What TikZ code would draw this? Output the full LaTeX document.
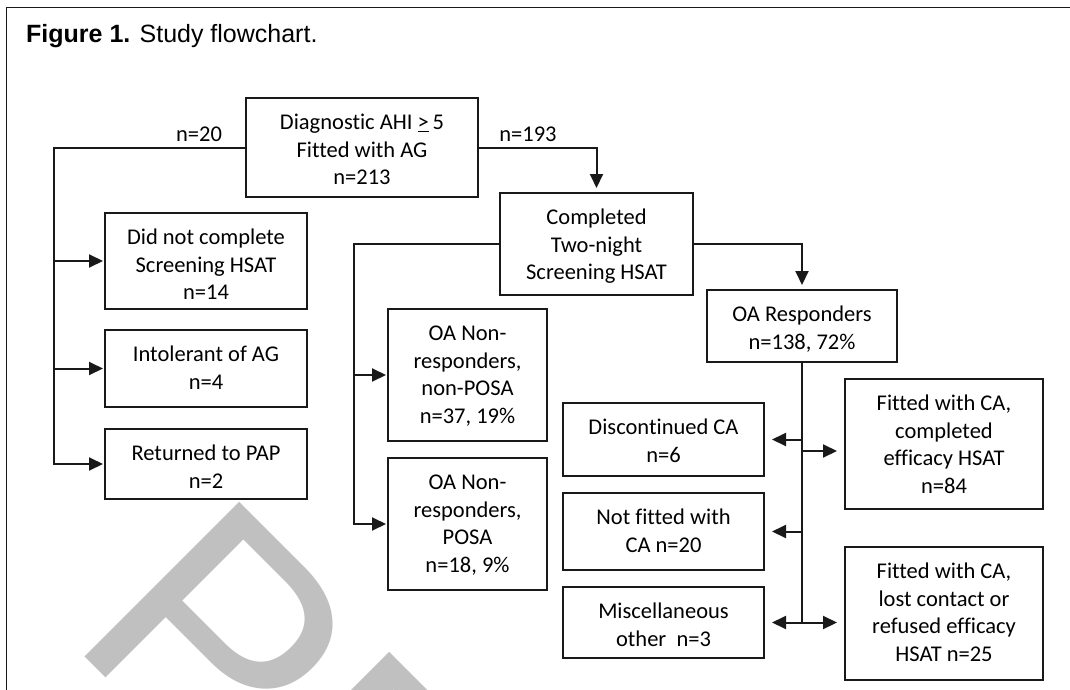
\documentclass[tikz,border=0pt]{standalone}
\usepackage{fontspec}
\setmainfont{Carlito}[Ligatures=NoCommon]
\newfontfamily\arialf{Liberation Sans}
\usetikzlibrary{arrows.meta}
\definecolor{ink}{RGB}{25,25,25}
\definecolor{wmgray}{RGB}{192,192,192}
\newcommand{\bt}[3]{\parbox[c][#2pt][t]{#1pt}{\centering\rule{0pt}{31.5pt}#3}}
\begin{document}
\begin{tikzpicture}[x=1pt,y=-1pt,
  box/.style={draw=ink, line width=2pt, inner sep=0pt, anchor=north west, font=\fontsize{22.5}{27.5}\selectfont},
  ln/.style={draw=ink, line width=2pt},
  arr/.style={ln, -{Triangle[length=14pt,width=13pt]}},
  lbl/.style={font=\fontsize{22.5}{27.5}\selectfont, inner sep=0pt, anchor=base},
  wm/.style={text=wmgray, font=\arialf\fontsize{318}{318}\selectfont, inner sep=0pt, anchor=base west, rotate=-45},
  frame/.style={draw=ink, line width=1.5pt}]
\useasboundingbox (0,0) rectangle (1070,690);
\fill[white] (0,0) rectangle (1070,690);
% watermark
\begin{scope}
\clip (0,0) rectangle (1070,690);
\node[wm] (W) at (66,638) {PR};
\end{scope}
% frame and title
\draw[frame] (6.5,692) -- (6.5,7.5) -- (1072,7.5);
\node[anchor=base west, inner sep=0pt, font=\arialf\fontsize{25}{30}\selectfont] (T) at (26,43) {\textbf{Figure 1.} Study flowchart.};
% boxes
\node[box] (A) at (245,97) {\bt{232}{99}{Diagnostic AHI \underline{>}\,5\\Fitted with AG\\n=213}};
\node[box] (B) at (104,212) {\bt{202}{96}{Did not complete\\Screening HSAT\\n=14}};
\node[box] (C) at (104,329) {\bt{202}{77}{Intolerant of AG\\n=4}};
\node[box] (D) at (104,428) {\bt{202}{70}{Returned to PAP\\n=2}};
\node[box] (E) at (499,192) {\bt{193}{102}{Completed\\Two-night\\Screening HSAT}};
\node[box] (F) at (387,308) {\bt{159}{132}{OA Non-\\responders,\\non-POSA\\n=37, 19\%}};
\node[box] (G) at (387,457) {\bt{159}{132}{OA Non-\\responders,\\POSA\\n=18, 9\%}};
\node[box] (R) at (706,289) {\bt{190}{72}{OA Responders\\n=138, 72\%}};
\node[box] (H) at (844,378) {\bt{198}{130}{Fitted with CA,\\completed\\efficacy HSAT\\n=84}};
\node[box] (I) at (844,546) {\bt{198}{133}{Fitted with CA,\\lost contact or\\refused efficacy\\HSAT n=25}};
\node[box] (J) at (562,402) {\bt{201}{73}{Discontinued CA\\n=6}};
\node[box] (K) at (562,492) {\bt{201}{77}{Not fitted with\\CA n=20}};
\node[box] (L) at (562,586) {\bt{201}{71}{Miscellaneous\\other~~n=3}};
% labels
\node[lbl] (n20) at (199,142) {n=20};
\node[lbl] (n193) at (528,142) {n=193};
% connectors left
\coordinate (lv) at (54,0);
\draw[arr, shorten >=1pt] (A.west) -| (lv |- D.west) -- (D.west);
\draw[arr, shorten >=1pt] (lv |- B.west) -- (B.west);
\draw[arr, shorten >=1pt] (lv |- C.west) -- (C.west);
% A to E
\draw[arr, shorten >=4pt] (A.east) -| (E.north);
% E to F, G
\coordinate (mv) at (354,0);
\draw[arr, shorten >=1pt] (E.west) -| (mv |- G.west) -- (G.west);
\draw[arr, shorten >=1pt] (mv |- F.west) -- (F.west);
% E to R
\draw[arr, shorten >=4pt] (E.east) -| (R.north);
% trunk
\coordinate (tb) at (R.south |- L.east);
\draw[ln] (R.south) -- (tb);
\path (R.south) ++(0,88) coordinate (th);
\draw[arr, shorten >=7pt] (R.south |- J.east) -- (J.east);
\draw[arr, shorten >=7pt] (R.south |- K.east) -- (K.east);
\draw[arr, shorten >=7pt] (tb) -- (L.east);
\draw[arr, shorten >=7pt] (th) -- (th -| H.west);
\draw[arr, shorten >=7pt] (tb) -- (tb -| I.west);
\end{tikzpicture}
\end{document}
